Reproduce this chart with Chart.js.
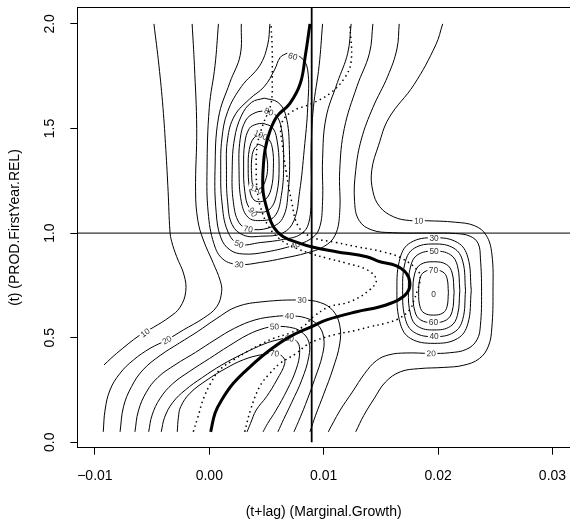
<!DOCTYPE html>
<html>
<head>
<meta charset="utf-8">
<script src="https://cdn.jsdelivr.net/npm/chart.js@4.4.1/dist/chart.umd.min.js"></script>
<style>
  html, body { margin: 0; padding: 0; background: #fff; }
</style>
</head>
<body>
<canvas id="plot" width="570" height="525"></canvas>
<script>
// axes
const xTicks = [-0.01, 0, 0.01, 0.02, 0.03];
const yTicks = [0, 0.5, 1, 1.5, 2];
const xRange = [-0.011538, 0.03153];
const yRange = [-0.0258, 2.0793];
const vLineX = 0.00895;
const hLineY = 1.0;

// density contours, left side
const c10Left = [[-0.00484,2.0],[-0.0044,1.8],[-0.00405,1.6],[-0.0038,1.4],[-0.0036,1.2],[-0.00344,1.01],[-0.00329,0.96],[-0.00285,0.887],[-0.00221,0.80],[-0.00206,0.72],[-0.00256,0.645],[-0.00344,0.60],[-0.0049,0.549],[-0.00606,0.513],[-0.0081,0.425],[-0.0092,0.37]];
const c20Left = [[-0.0015,2.0],[-0.0013,1.8],[-0.0011,1.5],[-0.0012,1.2],[-0.0010,1.06],[-0.00052,0.967],[0.00035,0.856],[0.00094,0.775],[0.00108,0.72],[0.00065,0.648],[-0.00052,0.593],[-0.00227,0.537],[-0.00372,0.489],[-0.00518,0.449],[-0.00664,0.393],[-0.0078,0.33],[-0.00868,0.25],[-0.00911,0.154],[-0.00927,0.05]];
const c30Top = [[0.0008,2.0],[0.0005,1.8],[0.0000,1.6],[-0.0002,1.3],[-0.0001,1.1],[0.0004,0.95],[0.0012,0.875],[0.0026,0.85],[0.0045,0.86],[0.0065,0.88],[0.0085,0.905],[0.0100,0.935],[0.0110,0.99],[0.0114,1.1],[0.0114,1.3],[0.0118,1.5],[0.0129,1.7],[0.0140,1.86],[0.0143,2.0]];
const c40Top = [[0.0028,2.0],[0.0027,1.85],[0.0018,1.72],[0.0008,1.55],[0.0005,1.3],[0.0006,1.1],[0.0010,0.98],[0.0018,0.92],[0.0030,0.90],[0.0050,0.91],[0.0075,0.943],[0.0088,0.97],[0.0096,1.02],[0.0099,1.15],[0.0099,1.35],[0.0102,1.55],[0.0112,1.72],[0.0121,1.86],[0.0124,2.0]];
const c50Top = [[0.0053,2.0],[0.0051,1.9],[0.0044,1.8],[0.0028,1.7],[0.0016,1.58],[0.0011,1.45],[0.0010,1.3],[0.0011,1.15],[0.0016,1.01],[0.0026,0.948],[0.0045,0.955],[0.0065,0.97],[0.0080,0.995],[0.0087,1.05],[0.0089,1.2],[0.0089,1.4],[0.0091,1.6],[0.0096,1.8],[0.0099,2.0]];
const ring60 = [[0.0068,1.86],[0.0080,1.84],[0.0086,1.78],[0.0086,1.6],[0.0083,1.4],[0.0079,1.2],[0.0074,1.06],[0.0064,1.0],[0.0045,0.985],[0.0030,0.99],[0.0020,1.04],[0.0016,1.15],[0.0015,1.3],[0.0016,1.45],[0.0022,1.56],[0.0035,1.64],[0.0048,1.70],[0.0057,1.78],[0.0062,1.84],[0.0068,1.86]];
const ring70 = [[0.0048,1.645],[0.0060,1.625],[0.0067,1.56],[0.0070,1.4],[0.0069,1.2],[0.0064,1.07],[0.0052,1.025],[0.0035,1.02],[0.0026,1.05],[0.0021,1.15],[0.0020,1.3],[0.0022,1.45],[0.0028,1.56],[0.0037,1.625],[0.0048,1.645]];
const ring80 = [[0.0049,1.585],[0.0058,1.565],[0.0063,1.5],[0.0065,1.35],[0.0063,1.18],[0.0057,1.08],[0.0045,1.06],[0.0034,1.075],[0.0028,1.15],[0.0026,1.3],[0.0027,1.45],[0.0032,1.54],[0.0040,1.575],[0.0049,1.585]];
const ring90 = [[0.0047,1.525],[0.0055,1.505],[0.0059,1.45],[0.0061,1.32],[0.0059,1.19],[0.0053,1.115],[0.0043,1.10],[0.0035,1.12],[0.0031,1.2],[0.0030,1.32],[0.0031,1.43],[0.0035,1.5],[0.0041,1.52],[0.0047,1.525]];
const ring100 = [[0.0045,1.47],[0.0051,1.455],[0.0055,1.41],[0.0056,1.31],[0.0054,1.21],[0.0049,1.16],[0.0043,1.15],[0.0038,1.165],[0.0035,1.22],[0.0034,1.31],[0.0035,1.4],[0.0039,1.455],[0.0045,1.47]];
const ring110 = [[0.0043,1.425],[0.0048,1.41],[0.0050,1.37],[0.0051,1.31],[0.0049,1.25],[0.0045,1.215],[0.0041,1.21],[0.0038,1.23],[0.0037,1.28],[0.0037,1.35],[0.0039,1.4],[0.0043,1.425]];

// lower ridge
const arch30 = [[-0.0078,0.05],[-0.0075,0.17],[-0.0068,0.266],[-0.0058,0.346],[-0.0043,0.415],[-0.0026,0.475],[-0.0010,0.53],[0.0006,0.59],[0.0024,0.648],[0.0047,0.672],[0.0081,0.68],[0.0097,0.668],[0.0108,0.63],[0.0114,0.56],[0.0114,0.47],[0.0108,0.35],[0.0100,0.23],[0.0093,0.13],[0.0088,0.05]];
const arch40 = [[-0.0065,0.05],[-0.0062,0.15],[-0.0055,0.24],[-0.0045,0.31],[-0.0030,0.37],[-0.0012,0.43],[0.0005,0.49],[0.0022,0.545],[0.0040,0.585],[0.0058,0.602],[0.0070,0.604],[0.0084,0.595],[0.0095,0.56],[0.0100,0.5],[0.0099,0.42],[0.0092,0.3],[0.0084,0.18],[0.0078,0.1],[0.0074,0.05]];
const arch50 = [[-0.0053,0.05],[-0.0050,0.13],[-0.0043,0.21],[-0.0032,0.28],[-0.0017,0.34],[0.0000,0.40],[0.0017,0.46],[0.0034,0.515],[0.0048,0.545],[0.0057,0.553],[0.0070,0.55],[0.0080,0.53],[0.0087,0.48],[0.0087,0.41],[0.0081,0.3],[0.0072,0.19],[0.0065,0.11],[0.0060,0.05]];
const arch60 = [[-0.0042,0.05],[-0.0039,0.12],[-0.0032,0.19],[-0.0021,0.25],[-0.0006,0.31],[0.0011,0.37],[0.0030,0.425],[0.0048,0.47],[0.0060,0.49],[0.0070,0.497],[0.0077,0.48],[0.0079,0.43],[0.0076,0.35],[0.0068,0.25],[0.0058,0.15],[0.0051,0.09],[0.0047,0.05]];
const arch70 = [[-0.0028,0.05],[-0.0027,0.12],[-0.0025,0.17],[-0.0017,0.234],[-0.0002,0.298],[0.0015,0.355],[0.0030,0.395],[0.0045,0.418],[0.0057,0.425],[0.0064,0.41],[0.0066,0.378],[0.0059,0.298],[0.0050,0.218],[0.0041,0.154],[0.0036,0.09],[0.0033,0.05]];

// right hand peak
const c10Right = [[0.0204,2.0],[0.0198,1.9],[0.0179,1.71],[0.0157,1.55],[0.0148,1.42],[0.0142,1.3],[0.0143,1.2],[0.0149,1.126],[0.0161,1.078],[0.0175,1.06],[0.0190,1.059],[0.0215,1.052],[0.0232,1.035],[0.0242,0.99],[0.0247,0.9],[0.0248,0.72],[0.0247,0.55],[0.0244,0.46],[0.0236,0.40],[0.0222,0.368],[0.0205,0.358],[0.0183,0.352],[0.0167,0.337],[0.0154,0.288],[0.0144,0.208],[0.0135,0.128],[0.0128,0.05]];
const c20Right = [[0.0166,2.0],[0.0164,1.88],[0.0156,1.75],[0.0143,1.6],[0.0133,1.45],[0.0128,1.3],[0.0127,1.15],[0.0131,1.06],[0.0142,1.015],[0.0160,1.002],[0.0195,1.0],[0.0215,0.998],[0.0228,0.985],[0.0235,0.95],[0.0237,0.88],[0.0238,0.72],[0.0237,0.56],[0.0234,0.49],[0.0225,0.445],[0.0210,0.428],[0.0194,0.425],[0.0172,0.427],[0.0157,0.418],[0.0146,0.39],[0.0136,0.33],[0.0125,0.24],[0.0114,0.15],[0.0104,0.05]];
const ring30R = [[0.0229,0.7255],[0.0226,0.8845],[0.0217,0.9548],[0.01965,0.978],[0.0176,0.9548],[0.0167,0.8845],[0.0164,0.7255],[0.0167,0.5665],[0.0176,0.4962],[0.01965,0.473],[0.0217,0.4962],[0.0226,0.5665],[0.0229,0.7255]];
const ring40R = [[0.0224,0.7265],[0.02215,0.866],[0.02138,0.9276],[0.01965,0.948],[0.01792,0.9276],[0.01715,0.866],[0.0169,0.7265],[0.01715,0.587],[0.01792,0.5254],[0.01965,0.505],[0.02138,0.5254],[0.02215,0.587],[0.0224,0.7265]];
const ring50R = [[0.0219,0.7255],[0.02169,0.844],[0.02107,0.897],[0.01965,0.914],[0.01823,0.897],[0.01761,0.844],[0.0174,0.7255],[0.01761,0.607],[0.01823,0.554],[0.01965,0.537],[0.02107,0.554],[0.02169,0.607],[0.0219,0.7255]];
const ring60R = [[0.0214,0.7175],[0.02123,0.809],[0.02073,0.850],[0.0196,0.863],[0.01847,0.850],[0.01797,0.809],[0.0178,0.7175],[0.01797,0.626],[0.01847,0.585],[0.0196,0.572],[0.02073,0.585],[0.02123,0.626],[0.0214,0.7175]];
const ring70R = [[0.0209,0.716],[0.02078,0.784],[0.02042,0.814],[0.0196,0.824],[0.01878,0.814],[0.01842,0.784],[0.0183,0.716],[0.01842,0.648],[0.01878,0.618],[0.0196,0.608],[0.02042,0.618],[0.02078,0.648],[0.0209,0.716]];

// conditional curves
const modeLine = [[0.00012,0.05],[0.0005,0.139],[0.00108,0.202],[0.0021,0.282],[0.00356,0.361],[0.0053,0.441],[0.00705,0.505],[0.00895,0.553],[0.01026,0.585],[0.01288,0.624],[0.01492,0.648],[0.0165,0.68],[0.0173,0.715],[0.01754,0.76],[0.0172,0.81],[0.0163,0.845],[0.01492,0.863],[0.01376,0.887],[0.0111,0.911],[0.00909,0.932],[0.00793,0.951],[0.00647,0.983],[0.0056,1.03],[0.00507,1.11],[0.00472,1.19],[0.00467,1.254],[0.00472,1.317],[0.00487,1.397],[0.00524,1.477],[0.00589,1.556],[0.00705,1.62],[0.00796,1.716],[0.0084,1.85],[0.0088,2.0]];
const lowerBand = [[-0.0014,0.05],[-0.0010,0.12],[-0.0005,0.21],[0.0001,0.28],[0.0009,0.346],[0.0021,0.393],[0.0033,0.433],[0.0044,0.465],[0.0056,0.497],[0.0070,0.521],[0.0082,0.553],[0.0091,0.60],[0.0105,0.648],[0.0123,0.672],[0.0140,0.728],[0.0146,0.776],[0.0138,0.824],[0.0120,0.856],[0.0103,0.88],[0.0090,0.90],[0.0075,0.93],[0.0062,0.97],[0.0052,1.03],[0.0045,1.12],[0.0042,1.2],[0.0041,1.3],[0.0042,1.42],[0.0047,1.52],[0.0054,1.62],[0.0055,1.75],[0.0055,1.88],[0.0054,1.99]];
const upperBand = [[0.0031,0.05],[0.0036,0.154],[0.0044,0.266],[0.0053,0.33],[0.0062,0.378],[0.0076,0.425],[0.0085,0.465],[0.0094,0.489],[0.0110,0.515],[0.0128,0.535],[0.0141,0.553],[0.0154,0.569],[0.0165,0.59],[0.0175,0.632],[0.0179,0.68],[0.0182,0.728],[0.0184,0.768],[0.0183,0.815],[0.0168,0.88],[0.0152,0.91],[0.0129,0.935],[0.0111,0.955],[0.0090,0.98],[0.0078,1.03],[0.0072,1.15],[0.0067,1.3],[0.0064,1.42],[0.0063,1.52],[0.0072,1.58],[0.0090,1.62],[0.0106,1.67],[0.0118,1.74],[0.0124,1.82],[0.0123,1.99]];

const contours = [c10Left, c20Left, c30Top, c40Top, c50Top, ring60, ring70, ring80, ring90, ring100, ring110,
  arch30, arch40, arch50, arch60, arch70, c10Right, c20Right, ring30R, ring40R, ring50R, ring60R, ring70R];

// level labels: text, x, y, contour it sits on
const contourLabels = [
  ['10', -0.0056, 0.524, c10Left], ['20', -0.0037, 0.489, c20Left],
  ['30', 0.0026, 0.85, c30Top], ['40', 0.0075, 0.943, c40Top], ['50', 0.0026, 0.948, c50Top],
  ['60', 0.0073, 1.845, ring60], ['70', 0.0034, 1.02, ring70], ['80', 0.0052, 1.58, ring80],
  ['90', 0.0038, 1.10, ring90], ['100', 0.0045, 1.469, ring100], ['110', 0.0041, 1.21, ring110],
  ['30', 0.0081, 0.68, arch30], ['40', 0.0070, 0.604, arch40], ['50', 0.0057, 0.553, arch50],
  ['60', 0.0070, 0.497, arch60], ['70', 0.0057, 0.425, arch70],
  ['10', 0.0183, 1.059, c10Right], ['20', 0.0194, 0.425, c20Right],
  ['30', 0.01965, 0.978, ring30R], ['50', 0.01965, 0.914, ring50R], ['70', 0.0196, 0.824, ring70R],
  ['60', 0.0196, 0.572, ring60R], ['40', 0.01965, 0.505, ring40R], ['0', 0.0196, 0.709, null]
];

const FONT = '"Liberation Sans", Arial, Helvetica, sans-serif';
Chart.defaults.font.family = FONT;
Chart.defaults.color = '#000';

const datasets = contours.map(c => ({
  data: c, borderColor: '#000', borderWidth: 1, pointRadius: 0, tension: 0.4, fill: false, order: 1
}));
datasets.push(
  { data: modeLine, borderColor: '#000', borderWidth: 3, pointRadius: 0, tension: 0.4, order: 0 },
  { data: lowerBand, borderColor: '#000', borderWidth: 1.5, borderDash: [1.5, 3.5], pointRadius: 0, tension: 0.4, order: 0 },
  { data: upperBand, borderColor: '#000', borderWidth: 1.5, borderDash: [1.5, 3.5], pointRadius: 0, tension: 0.4, order: 0 },
  { data: [[vLineX, 0], [vLineX, yRange[1]]], borderColor: '#000', borderWidth: 1.8, pointRadius: 0, order: 0 },
  { data: [[xRange[0], hLineY], [xRange[1], hLineY]], borderColor: '#000', borderWidth: 1, pointRadius: 0, order: 0 }
);

// labels go on after the contours, before the overlaid curves
const labelPlugin = {
  id: 'contourLabels',
  afterDatasetDraw(chart, args) {
    if (args.index !== 0) return;
    const { ctx, scales: { x, y } } = chart;
    ctx.save();
    ctx.font = '8.4px ' + FONT;
    ctx.textAlign = 'center';
    ctx.textBaseline = 'middle';
    contourLabels.forEach(([txt, lx, ly, path]) => {
      const px = x.getPixelForValue(lx), py = y.getPixelForValue(ly);
      let ang = 0;
      if (path) {
        let best = 0, bd = Infinity;
        path.forEach((p, i) => {
          const d = Math.hypot(x.getPixelForValue(p[0]) - px, y.getPixelForValue(p[1]) - py);
          if (d < bd) { bd = d; best = i; }
        });
        const a = path[Math.max(best - 1, 0)], b = path[Math.min(best + 1, path.length - 1)];
        ang = Math.atan2(y.getPixelForValue(b[1]) - y.getPixelForValue(a[1]),
                         x.getPixelForValue(b[0]) - x.getPixelForValue(a[0]));
        if (ang > Math.PI / 2) ang -= Math.PI;
        if (ang < -Math.PI / 2) ang += Math.PI;
      }
      ctx.save();
      ctx.translate(px, py);
      ctx.rotate(ang);
      const w = ctx.measureText(txt).width;
      ctx.fillStyle = '#fff';
      ctx.fillRect(-w / 2 - 1.5, -2.8, w + 3, 5.6);
      ctx.fillStyle = '#333';
      ctx.fillText(txt, 0, 0.5);
      ctx.restore();
    });
    ctx.restore();
  }
};

// top edge of the box
const boxPlugin = {
  id: 'topEdge',
  afterDraw(chart) {
    const { ctx, chartArea: a } = chart;
    ctx.save();
    ctx.strokeStyle = '#000';
    ctx.lineWidth = 1;
    ctx.beginPath();
    ctx.moveTo(a.left, Math.round(a.top) + 0.5);
    ctx.lineTo(a.right, Math.round(a.top) + 0.5);
    ctx.stroke();
    ctx.restore();
  }
};

new Chart(document.getElementById('plot'), {
  type: 'line',
  data: { datasets },
  plugins: [labelPlugin, boxPlugin],
  options: {
    responsive: false,
    devicePixelRatio: 1,
    animation: false,
    events: [],
    layout: { padding: { top: 7.3, right: 0, bottom: 0, left: 0 } },
    plugins: { legend: { display: false }, tooltip: { enabled: false } },
    scales: {
      x: {
        type: 'linear', min: xRange[0], max: xRange[1],
        afterBuildTicks: s => { s.ticks = xTicks.map(v => ({ value: v })); },
        afterFit: s => { s.height = 77.3; s.paddingLeft = 0; s.paddingRight = 0; },
        ticks: {
          autoSkip: false, maxRotation: 0, padding: 12.6, font: { size: 14 },
          callback: v => (v < 0 ? '\u2212' : '') + Math.abs(v).toFixed(2)
        },
        grid: { drawOnChartArea: false, drawTicks: true, tickLength: 7, color: '#000', tickColor: '#000' },
        border: { display: true, color: '#000', width: 1 },
        title: { display: true, text: '(t+lag) (Marginal.Growth)', font: { size: 14 }, padding: { top: 0, bottom: 4.3 } }
      },
      y: {
        type: 'linear', min: yRange[0], max: yRange[1],
        afterBuildTicks: s => { s.ticks = yTicks.map(v => ({ value: v })); },
        afterFit: s => { s.width = 77.3; s.paddingTop = 0; s.paddingBottom = 0; },
        ticks: {
          autoSkip: false, minRotation: 90, maxRotation: 90, crossAlign: 'center', padding: 10.6,
          font: { size: 14 }, callback: v => v.toFixed(1)
        },
        grid: { drawOnChartArea: false, drawTicks: true, tickLength: 7, color: '#000', tickColor: '#000' },
        border: { display: true, color: '#000', width: 1 },
        title: { display: true, text: '(t) (PROD.FirstYear.REL)', font: { size: 14 }, padding: { top: 6.6, bottom: 0 } }
      }
    }
  }
});
</script>
</body>
</html>
